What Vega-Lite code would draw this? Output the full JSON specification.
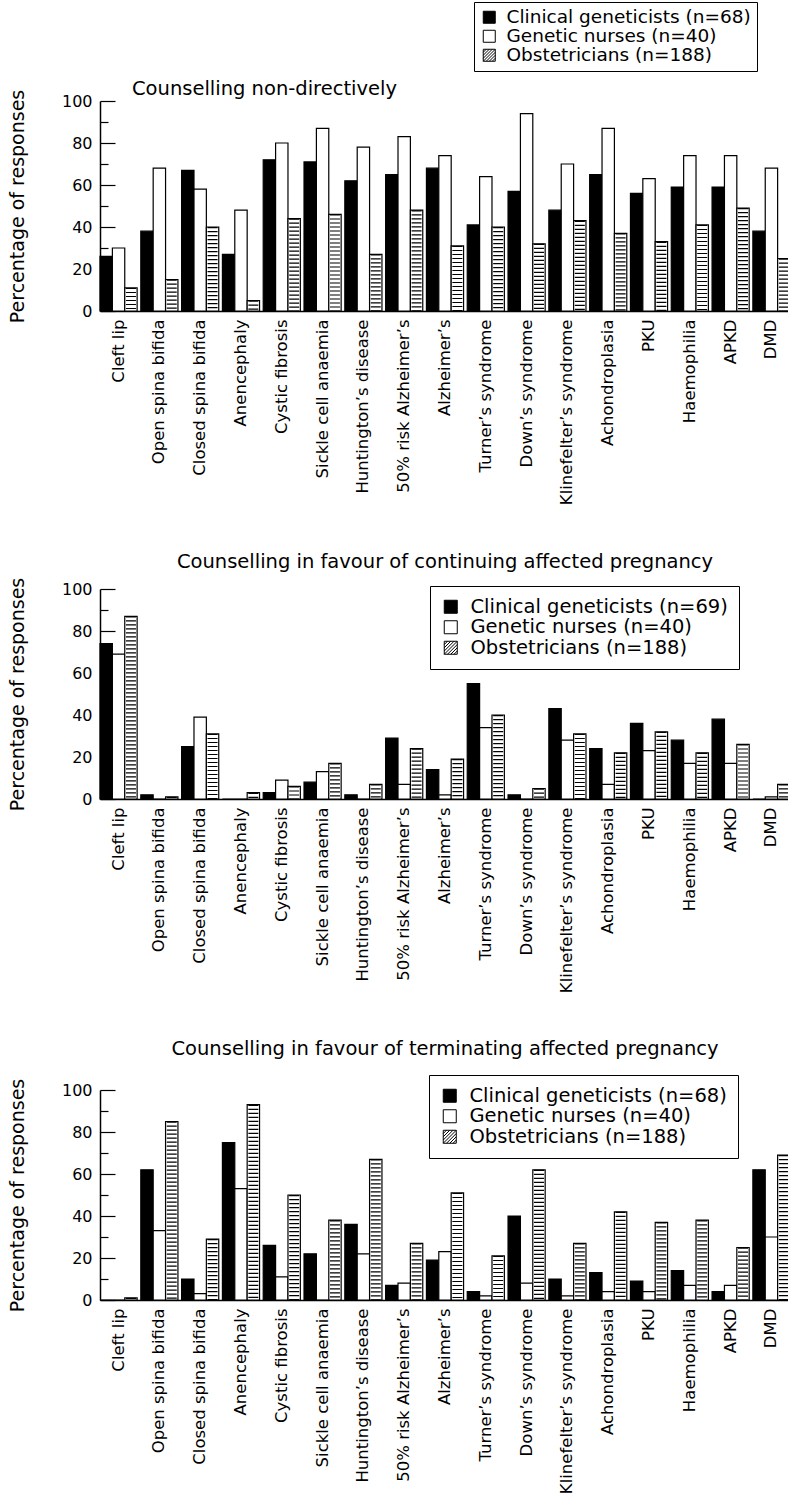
{
  "$schema": "https://vega.github.io/schema/vega-lite/v6.json",
  "padding": {"left": 7, "top": 1, "right": 0, "bottom": 0},
  "background": "white",
  "config": {
    "font": "DejaVu Sans",
    "view": {"stroke": null},
    "axis": {"labelFont": "DejaVu Sans", "titleFont": "DejaVu Sans", "labelColor": "black", "titleColor": "black", "domainColor": "black", "tickColor": "black", "grid": false},
    "title": {"font": "DejaVu Sans", "fontSize": 19.5, "fontWeight": "normal", "color": "black", "baseline": "alphabetic"},
    "legend": {"labelFont": "DejaVu Sans", "labelColor": "black"},
    "concat": {"spacing": 46}
  },
  "datasets": {
    "nondirective": [
      {"condition": "Cleft lip", "group": "Clinical geneticists (n=68)", "percent": 26},
      {"condition": "Cleft lip", "group": "Genetic nurses (n=40)", "percent": 30},
      {"condition": "Cleft lip", "group": "Obstetricians (n=188)", "percent": 11},
      {"condition": "Open spina bifida", "group": "Clinical geneticists (n=68)", "percent": 38},
      {"condition": "Open spina bifida", "group": "Genetic nurses (n=40)", "percent": 68},
      {"condition": "Open spina bifida", "group": "Obstetricians (n=188)", "percent": 15},
      {"condition": "Closed spina bifida", "group": "Clinical geneticists (n=68)", "percent": 67},
      {"condition": "Closed spina bifida", "group": "Genetic nurses (n=40)", "percent": 58},
      {"condition": "Closed spina bifida", "group": "Obstetricians (n=188)", "percent": 40},
      {"condition": "Anencephaly", "group": "Clinical geneticists (n=68)", "percent": 27},
      {"condition": "Anencephaly", "group": "Genetic nurses (n=40)", "percent": 48},
      {"condition": "Anencephaly", "group": "Obstetricians (n=188)", "percent": 5},
      {"condition": "Cystic fibrosis", "group": "Clinical geneticists (n=68)", "percent": 72},
      {"condition": "Cystic fibrosis", "group": "Genetic nurses (n=40)", "percent": 80},
      {"condition": "Cystic fibrosis", "group": "Obstetricians (n=188)", "percent": 44},
      {"condition": "Sickle cell anaemia", "group": "Clinical geneticists (n=68)", "percent": 71},
      {"condition": "Sickle cell anaemia", "group": "Genetic nurses (n=40)", "percent": 87},
      {"condition": "Sickle cell anaemia", "group": "Obstetricians (n=188)", "percent": 46},
      {"condition": "Huntington’s disease", "group": "Clinical geneticists (n=68)", "percent": 62},
      {"condition": "Huntington’s disease", "group": "Genetic nurses (n=40)", "percent": 78},
      {"condition": "Huntington’s disease", "group": "Obstetricians (n=188)", "percent": 27},
      {"condition": "50% risk Alzheimer’s", "group": "Clinical geneticists (n=68)", "percent": 65},
      {"condition": "50% risk Alzheimer’s", "group": "Genetic nurses (n=40)", "percent": 83},
      {"condition": "50% risk Alzheimer’s", "group": "Obstetricians (n=188)", "percent": 48},
      {"condition": "Alzheimer’s", "group": "Clinical geneticists (n=68)", "percent": 68},
      {"condition": "Alzheimer’s", "group": "Genetic nurses (n=40)", "percent": 74},
      {"condition": "Alzheimer’s", "group": "Obstetricians (n=188)", "percent": 31},
      {"condition": "Turner’s syndrome", "group": "Clinical geneticists (n=68)", "percent": 41},
      {"condition": "Turner’s syndrome", "group": "Genetic nurses (n=40)", "percent": 64},
      {"condition": "Turner’s syndrome", "group": "Obstetricians (n=188)", "percent": 40},
      {"condition": "Down’s syndrome", "group": "Clinical geneticists (n=68)", "percent": 57},
      {"condition": "Down’s syndrome", "group": "Genetic nurses (n=40)", "percent": 94},
      {"condition": "Down’s syndrome", "group": "Obstetricians (n=188)", "percent": 32},
      {"condition": "Klinefelter’s syndrome", "group": "Clinical geneticists (n=68)", "percent": 48},
      {"condition": "Klinefelter’s syndrome", "group": "Genetic nurses (n=40)", "percent": 70},
      {"condition": "Klinefelter’s syndrome", "group": "Obstetricians (n=188)", "percent": 43},
      {"condition": "Achondroplasia", "group": "Clinical geneticists (n=68)", "percent": 65},
      {"condition": "Achondroplasia", "group": "Genetic nurses (n=40)", "percent": 87},
      {"condition": "Achondroplasia", "group": "Obstetricians (n=188)", "percent": 37},
      {"condition": "PKU", "group": "Clinical geneticists (n=68)", "percent": 56},
      {"condition": "PKU", "group": "Genetic nurses (n=40)", "percent": 63},
      {"condition": "PKU", "group": "Obstetricians (n=188)", "percent": 33},
      {"condition": "Haemophilia", "group": "Clinical geneticists (n=68)", "percent": 59},
      {"condition": "Haemophilia", "group": "Genetic nurses (n=40)", "percent": 74},
      {"condition": "Haemophilia", "group": "Obstetricians (n=188)", "percent": 41},
      {"condition": "APKD", "group": "Clinical geneticists (n=68)", "percent": 59},
      {"condition": "APKD", "group": "Genetic nurses (n=40)", "percent": 74},
      {"condition": "APKD", "group": "Obstetricians (n=188)", "percent": 49},
      {"condition": "DMD", "group": "Clinical geneticists (n=68)", "percent": 38},
      {"condition": "DMD", "group": "Genetic nurses (n=40)", "percent": 68},
      {"condition": "DMD", "group": "Obstetricians (n=188)", "percent": 25}
    ],
    "continuing": [
      {"condition": "Cleft lip", "group": "Clinical geneticists (n=69)", "percent": 74},
      {"condition": "Cleft lip", "group": "Genetic nurses (n=40)", "percent": 69},
      {"condition": "Cleft lip", "group": "Obstetricians (n=188)", "percent": 87},
      {"condition": "Open spina bifida", "group": "Clinical geneticists (n=69)", "percent": 2},
      {"condition": "Open spina bifida", "group": "Genetic nurses (n=40)", "percent": 0},
      {"condition": "Open spina bifida", "group": "Obstetricians (n=188)", "percent": 1},
      {"condition": "Closed spina bifida", "group": "Clinical geneticists (n=69)", "percent": 25},
      {"condition": "Closed spina bifida", "group": "Genetic nurses (n=40)", "percent": 39},
      {"condition": "Closed spina bifida", "group": "Obstetricians (n=188)", "percent": 31},
      {"condition": "Anencephaly", "group": "Clinical geneticists (n=69)", "percent": 0},
      {"condition": "Anencephaly", "group": "Genetic nurses (n=40)", "percent": 0},
      {"condition": "Anencephaly", "group": "Obstetricians (n=188)", "percent": 3},
      {"condition": "Cystic fibrosis", "group": "Clinical geneticists (n=69)", "percent": 3},
      {"condition": "Cystic fibrosis", "group": "Genetic nurses (n=40)", "percent": 9},
      {"condition": "Cystic fibrosis", "group": "Obstetricians (n=188)", "percent": 6},
      {"condition": "Sickle cell anaemia", "group": "Clinical geneticists (n=69)", "percent": 8},
      {"condition": "Sickle cell anaemia", "group": "Genetic nurses (n=40)", "percent": 13},
      {"condition": "Sickle cell anaemia", "group": "Obstetricians (n=188)", "percent": 17},
      {"condition": "Huntington’s disease", "group": "Clinical geneticists (n=69)", "percent": 2},
      {"condition": "Huntington’s disease", "group": "Genetic nurses (n=40)", "percent": 0},
      {"condition": "Huntington’s disease", "group": "Obstetricians (n=188)", "percent": 7},
      {"condition": "50% risk Alzheimer’s", "group": "Clinical geneticists (n=69)", "percent": 29},
      {"condition": "50% risk Alzheimer’s", "group": "Genetic nurses (n=40)", "percent": 7},
      {"condition": "50% risk Alzheimer’s", "group": "Obstetricians (n=188)", "percent": 24},
      {"condition": "Alzheimer’s", "group": "Clinical geneticists (n=69)", "percent": 14},
      {"condition": "Alzheimer’s", "group": "Genetic nurses (n=40)", "percent": 2},
      {"condition": "Alzheimer’s", "group": "Obstetricians (n=188)", "percent": 19},
      {"condition": "Turner’s syndrome", "group": "Clinical geneticists (n=69)", "percent": 55},
      {"condition": "Turner’s syndrome", "group": "Genetic nurses (n=40)", "percent": 34},
      {"condition": "Turner’s syndrome", "group": "Obstetricians (n=188)", "percent": 40},
      {"condition": "Down’s syndrome", "group": "Clinical geneticists (n=69)", "percent": 2},
      {"condition": "Down’s syndrome", "group": "Genetic nurses (n=40)", "percent": 0},
      {"condition": "Down’s syndrome", "group": "Obstetricians (n=188)", "percent": 5},
      {"condition": "Klinefelter’s syndrome", "group": "Clinical geneticists (n=69)", "percent": 43},
      {"condition": "Klinefelter’s syndrome", "group": "Genetic nurses (n=40)", "percent": 28},
      {"condition": "Klinefelter’s syndrome", "group": "Obstetricians (n=188)", "percent": 31},
      {"condition": "Achondroplasia", "group": "Clinical geneticists (n=69)", "percent": 24},
      {"condition": "Achondroplasia", "group": "Genetic nurses (n=40)", "percent": 7},
      {"condition": "Achondroplasia", "group": "Obstetricians (n=188)", "percent": 22},
      {"condition": "PKU", "group": "Clinical geneticists (n=69)", "percent": 36},
      {"condition": "PKU", "group": "Genetic nurses (n=40)", "percent": 23},
      {"condition": "PKU", "group": "Obstetricians (n=188)", "percent": 32},
      {"condition": "Haemophilia", "group": "Clinical geneticists (n=69)", "percent": 28},
      {"condition": "Haemophilia", "group": "Genetic nurses (n=40)", "percent": 17},
      {"condition": "Haemophilia", "group": "Obstetricians (n=188)", "percent": 22},
      {"condition": "APKD", "group": "Clinical geneticists (n=69)", "percent": 38},
      {"condition": "APKD", "group": "Genetic nurses (n=40)", "percent": 17},
      {"condition": "APKD", "group": "Obstetricians (n=188)", "percent": 26},
      {"condition": "DMD", "group": "Clinical geneticists (n=69)", "percent": 0},
      {"condition": "DMD", "group": "Genetic nurses (n=40)", "percent": 1},
      {"condition": "DMD", "group": "Obstetricians (n=188)", "percent": 7}
    ],
    "terminating": [
      {"condition": "Cleft lip", "group": "Clinical geneticists (n=68)", "percent": 0},
      {"condition": "Cleft lip", "group": "Genetic nurses (n=40)", "percent": 0},
      {"condition": "Cleft lip", "group": "Obstetricians (n=188)", "percent": 1},
      {"condition": "Open spina bifida", "group": "Clinical geneticists (n=68)", "percent": 62},
      {"condition": "Open spina bifida", "group": "Genetic nurses (n=40)", "percent": 33},
      {"condition": "Open spina bifida", "group": "Obstetricians (n=188)", "percent": 85},
      {"condition": "Closed spina bifida", "group": "Clinical geneticists (n=68)", "percent": 10},
      {"condition": "Closed spina bifida", "group": "Genetic nurses (n=40)", "percent": 3},
      {"condition": "Closed spina bifida", "group": "Obstetricians (n=188)", "percent": 29},
      {"condition": "Anencephaly", "group": "Clinical geneticists (n=68)", "percent": 75},
      {"condition": "Anencephaly", "group": "Genetic nurses (n=40)", "percent": 53},
      {"condition": "Anencephaly", "group": "Obstetricians (n=188)", "percent": 93},
      {"condition": "Cystic fibrosis", "group": "Clinical geneticists (n=68)", "percent": 26},
      {"condition": "Cystic fibrosis", "group": "Genetic nurses (n=40)", "percent": 11},
      {"condition": "Cystic fibrosis", "group": "Obstetricians (n=188)", "percent": 50},
      {"condition": "Sickle cell anaemia", "group": "Clinical geneticists (n=68)", "percent": 22},
      {"condition": "Sickle cell anaemia", "group": "Genetic nurses (n=40)", "percent": 0},
      {"condition": "Sickle cell anaemia", "group": "Obstetricians (n=188)", "percent": 38},
      {"condition": "Huntington’s disease", "group": "Clinical geneticists (n=68)", "percent": 36},
      {"condition": "Huntington’s disease", "group": "Genetic nurses (n=40)", "percent": 22},
      {"condition": "Huntington’s disease", "group": "Obstetricians (n=188)", "percent": 67},
      {"condition": "50% risk Alzheimer’s", "group": "Clinical geneticists (n=68)", "percent": 7},
      {"condition": "50% risk Alzheimer’s", "group": "Genetic nurses (n=40)", "percent": 8},
      {"condition": "50% risk Alzheimer’s", "group": "Obstetricians (n=188)", "percent": 27},
      {"condition": "Alzheimer’s", "group": "Clinical geneticists (n=68)", "percent": 19},
      {"condition": "Alzheimer’s", "group": "Genetic nurses (n=40)", "percent": 23},
      {"condition": "Alzheimer’s", "group": "Obstetricians (n=188)", "percent": 51},
      {"condition": "Turner’s syndrome", "group": "Clinical geneticists (n=68)", "percent": 4},
      {"condition": "Turner’s syndrome", "group": "Genetic nurses (n=40)", "percent": 2},
      {"condition": "Turner’s syndrome", "group": "Obstetricians (n=188)", "percent": 21},
      {"condition": "Down’s syndrome", "group": "Clinical geneticists (n=68)", "percent": 40},
      {"condition": "Down’s syndrome", "group": "Genetic nurses (n=40)", "percent": 8},
      {"condition": "Down’s syndrome", "group": "Obstetricians (n=188)", "percent": 62},
      {"condition": "Klinefelter’s syndrome", "group": "Clinical geneticists (n=68)", "percent": 10},
      {"condition": "Klinefelter’s syndrome", "group": "Genetic nurses (n=40)", "percent": 2},
      {"condition": "Klinefelter’s syndrome", "group": "Obstetricians (n=188)", "percent": 27},
      {"condition": "Achondroplasia", "group": "Clinical geneticists (n=68)", "percent": 13},
      {"condition": "Achondroplasia", "group": "Genetic nurses (n=40)", "percent": 4},
      {"condition": "Achondroplasia", "group": "Obstetricians (n=188)", "percent": 42},
      {"condition": "PKU", "group": "Clinical geneticists (n=68)", "percent": 9},
      {"condition": "PKU", "group": "Genetic nurses (n=40)", "percent": 4},
      {"condition": "PKU", "group": "Obstetricians (n=188)", "percent": 37},
      {"condition": "Haemophilia", "group": "Clinical geneticists (n=68)", "percent": 14},
      {"condition": "Haemophilia", "group": "Genetic nurses (n=40)", "percent": 7},
      {"condition": "Haemophilia", "group": "Obstetricians (n=188)", "percent": 38},
      {"condition": "APKD", "group": "Clinical geneticists (n=68)", "percent": 4},
      {"condition": "APKD", "group": "Genetic nurses (n=40)", "percent": 7},
      {"condition": "APKD", "group": "Obstetricians (n=188)", "percent": 25},
      {"condition": "DMD", "group": "Clinical geneticists (n=68)", "percent": 62},
      {"condition": "DMD", "group": "Genetic nurses (n=40)", "percent": 30},
      {"condition": "DMD", "group": "Obstetricians (n=188)", "percent": 69}
    ]
  },
  "resolve": {
    "scale": {"x": "independent", "y": "independent", "xOffset": "independent", "fill": "independent"},
    "legend": {"fill": "independent"},
    "axis": {"x": "independent", "y": "independent"}
  },
  "vconcat": [
    {
      "data": {"name": "nondirective"},
      "width": 690,
      "height": 210,
      "title": {"text": "Counselling non-directively", "anchor": "start", "frame": "group", "dx": 32, "offset": -98},
      "layer": [
        {
          "mark": {"type": "bar", "stroke": "black", "strokeWidth": 1.2},
          "encoding": {
            "x": {"field": "condition", "type": "nominal", "sort": null, "scale": {"paddingInner": 0.09, "paddingOuter": 0}, "axis": {"title": null, "labelAngle": -90, "labelFontSize": 16.5, "ticks": false, "labelPadding": 8, "domainWidth": 1.5, "labelLimit": 300}},
            "xOffset": {"field": "group", "type": "nominal", "sort": null, "scale": {"domain": ["Clinical geneticists (n=68)", "Genetic nurses (n=40)", "Obstetricians (n=188)"], "paddingInner": 0, "paddingOuter": 0}},
            "y": {"field": "percent", "type": "quantitative", "scale": {"domain": [0, 100], "nice": false}, "axis": {"title": "Percentage of responses", "titleFontSize": 19, "titleFontWeight": "normal", "titleX": -77, "titleBaseline": "alphabetic", "values": [0, 20, 40, 60, 80, 100], "tickSize": -15, "tickWidth": 1.2, "labelPadding": 23, "labelFontSize": 16, "domainWidth": 1.5}},
            "fill": {"field": "group", "type": "nominal", "sort": null, "scale": {"domain": ["Clinical geneticists (n=68)", "Genetic nurses (n=40)", "Obstetricians (n=188)"], "range": ["black", "white", "white"]},
              "legend": {"title": null, "orient": "none", "legendX": 374, "legendY": -99, "labelFontSize": 18.5, "symbolType": "square", "symbolSize": 144, "symbolStrokeColor": "black", "symbolStrokeWidth": 1, "strokeColor": "black", "fillColor": "white", "padding": 6, "rowPadding": -1, "labelOffset": 8, "labelLimit": 400,
                "encode": {"symbols": {"update": {"stroke": {"value": "black"}, "strokeWidth": {"value": 1}, "shape": {"signal": "datum.value === 'Obstetricians (n=188)' ? 'M-1,-1H1V1H-1Z M-1,-0.5L-0.5,-1 M-1,0L0,-1 M-1,0.5L0.5,-1 M-1,1L1,-1 M-0.5,1L1,-0.5 M0,1L1,0 M0.5,1L1,0.5' : 'square'"}}}}}}
          }
        },
        {
          "mark": {"type": "rule", "color": "black", "strokeWidth": 10, "strokeDash": [1.2, 2.8]},
          "encoding": {
            "x": {"field": "condition", "type": "nominal", "sort": null},
            "xOffset": {"field": "group", "type": "nominal", "sort": null},
            "y": {"field": "percent", "type": "quantitative", "axis": {"orient": "left", "values": [10, 30, 50, 70, 90], "tickSize": -8, "tickWidth": 1.2, "labels": false, "domain": false, "title": null}},
            "y2": {"datum": 0},
            "opacity": {"condition": {"test": "datum.group === 'Obstetricians (n=188)'", "value": 1}, "value": 0}
          }
        }
      ],
      "resolve": {"axis": {"y": "independent"}}
    },
    {
      "data": {"name": "continuing"},
      "width": 690,
      "height": 210,
      "title": {"text": "Counselling in favour of continuing affected pregnancy", "anchor": "middle", "frame": "group", "offset": 5},
      "layer": [
        {
          "mark": {"type": "bar", "stroke": "black", "strokeWidth": 1.2},
          "encoding": {
            "x": {"field": "condition", "type": "nominal", "sort": null, "scale": {"paddingInner": 0.09, "paddingOuter": 0}, "axis": {"title": null, "labelAngle": -90, "labelFontSize": 16.5, "ticks": false, "labelPadding": 8, "domainWidth": 1.5, "labelLimit": 300}},
            "xOffset": {"field": "group", "type": "nominal", "sort": null, "scale": {"domain": ["Clinical geneticists (n=69)", "Genetic nurses (n=40)", "Obstetricians (n=188)"], "paddingInner": 0, "paddingOuter": 0}},
            "y": {"field": "percent", "type": "quantitative", "scale": {"domain": [0, 100], "nice": false}, "axis": {"title": "Percentage of responses", "titleFontSize": 19, "titleFontWeight": "normal", "titleX": -77, "titleBaseline": "alphabetic", "values": [0, 20, 40, 60, 80, 100], "tickSize": -15, "tickWidth": 1.2, "labelPadding": 23, "labelFontSize": 16, "domainWidth": 1.5}},
            "fill": {"field": "group", "type": "nominal", "sort": null, "scale": {"domain": ["Clinical geneticists (n=69)", "Genetic nurses (n=40)", "Obstetricians (n=188)"], "range": ["black", "white", "white"]},
              "legend": {"title": null, "orient": "none", "legendX": 330, "legendY": -3, "labelFontSize": 19.5, "symbolType": "square", "symbolSize": 169, "symbolStrokeColor": "black", "symbolStrokeWidth": 1, "strokeColor": "black", "fillColor": "white", "padding": 11, "rowPadding": -0.5, "labelOffset": 10, "labelLimit": 400,
                "encode": {"symbols": {"update": {"stroke": {"value": "black"}, "strokeWidth": {"value": 1}, "shape": {"signal": "datum.value === 'Obstetricians (n=188)' ? 'M-1,-1H1V1H-1Z M-1,-0.5L-0.5,-1 M-1,0L0,-1 M-1,0.5L0.5,-1 M-1,1L1,-1 M-0.5,1L1,-0.5 M0,1L1,0 M0.5,1L1,0.5' : 'square'"}}}}}}
          }
        },
        {
          "mark": {"type": "rule", "color": "black", "strokeWidth": 10, "strokeDash": [1.2, 2.8]},
          "encoding": {
            "x": {"field": "condition", "type": "nominal", "sort": null},
            "xOffset": {"field": "group", "type": "nominal", "sort": null},
            "y": {"field": "percent", "type": "quantitative", "axis": {"orient": "left", "values": [10, 30, 50, 70, 90], "tickSize": -8, "tickWidth": 1.2, "labels": false, "domain": false, "title": null}},
            "y2": {"datum": 0},
            "opacity": {"condition": {"test": "datum.group === 'Obstetricians (n=188)'", "value": 1}, "value": 0}
          }
        }
      ],
      "resolve": {"axis": {"y": "independent"}}
    },
    {
      "data": {"name": "terminating"},
      "width": 690,
      "height": 210,
      "title": {"text": "Counselling in favour of terminating affected pregnancy", "anchor": "middle", "frame": "group", "offset": 15},
      "layer": [
        {
          "mark": {"type": "bar", "stroke": "black", "strokeWidth": 1.2},
          "encoding": {
            "x": {"field": "condition", "type": "nominal", "sort": null, "scale": {"paddingInner": 0.09, "paddingOuter": 0}, "axis": {"title": null, "labelAngle": -90, "labelFontSize": 16.5, "ticks": false, "labelPadding": 8, "domainWidth": 1.5, "labelLimit": 300}},
            "xOffset": {"field": "group", "type": "nominal", "sort": null, "scale": {"domain": ["Clinical geneticists (n=68)", "Genetic nurses (n=40)", "Obstetricians (n=188)"], "paddingInner": 0, "paddingOuter": 0}},
            "y": {"field": "percent", "type": "quantitative", "scale": {"domain": [0, 100], "nice": false}, "axis": {"title": "Percentage of responses", "titleFontSize": 19, "titleFontWeight": "normal", "titleX": -77, "titleBaseline": "alphabetic", "values": [0, 20, 40, 60, 80, 100], "tickSize": -15, "tickWidth": 1.2, "labelPadding": 23, "labelFontSize": 16, "domainWidth": 1.5}},
            "fill": {"field": "group", "type": "nominal", "sort": null, "scale": {"domain": ["Clinical geneticists (n=68)", "Genetic nurses (n=40)", "Obstetricians (n=188)"], "range": ["black", "white", "white"]},
              "legend": {"title": null, "orient": "none", "legendX": 329, "legendY": -15, "labelFontSize": 19.5, "symbolType": "square", "symbolSize": 169, "symbolStrokeColor": "black", "symbolStrokeWidth": 1, "strokeColor": "black", "fillColor": "white", "padding": 11, "rowPadding": -0.5, "labelOffset": 10, "labelLimit": 400,
                "encode": {"symbols": {"update": {"stroke": {"value": "black"}, "strokeWidth": {"value": 1}, "shape": {"signal": "datum.value === 'Obstetricians (n=188)' ? 'M-1,-1H1V1H-1Z M-1,-0.5L-0.5,-1 M-1,0L0,-1 M-1,0.5L0.5,-1 M-1,1L1,-1 M-0.5,1L1,-0.5 M0,1L1,0 M0.5,1L1,0.5' : 'square'"}}}}}}
          }
        },
        {
          "mark": {"type": "rule", "color": "black", "strokeWidth": 10, "strokeDash": [1.2, 2.8]},
          "encoding": {
            "x": {"field": "condition", "type": "nominal", "sort": null},
            "xOffset": {"field": "group", "type": "nominal", "sort": null},
            "y": {"field": "percent", "type": "quantitative", "axis": {"orient": "left", "values": [10, 30, 50, 70, 90], "tickSize": -8, "tickWidth": 1.2, "labels": false, "domain": false, "title": null}},
            "y2": {"datum": 0},
            "opacity": {"condition": {"test": "datum.group === 'Obstetricians (n=188)'", "value": 1}, "value": 0}
          }
        }
      ],
      "resolve": {"axis": {"y": "independent"}}
    }
  ]
}
